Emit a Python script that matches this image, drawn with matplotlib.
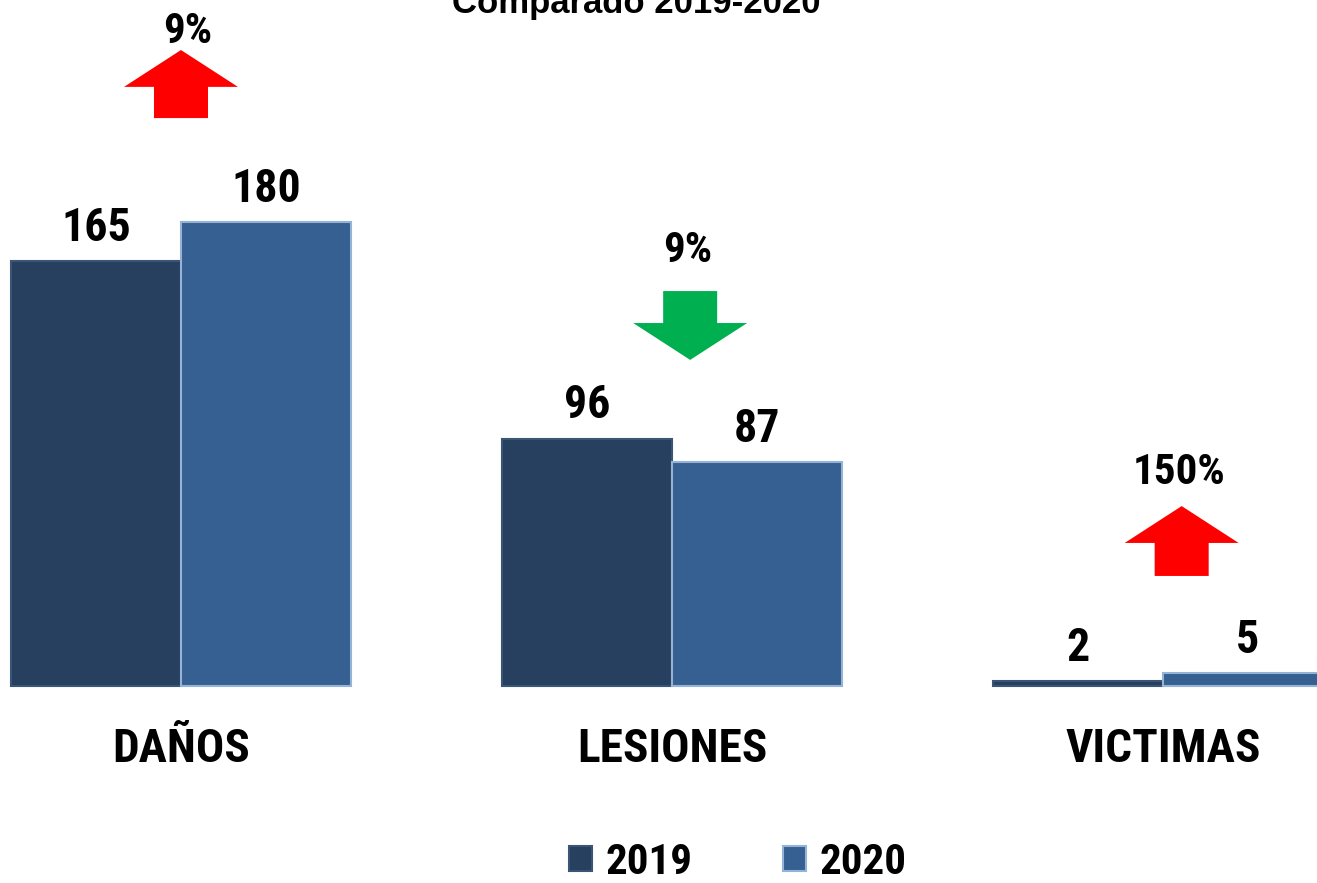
import numpy as np
import matplotlib
matplotlib.use("Agg")
from matplotlib import pyplot as plt
from matplotlib.patches import Polygon

plt.rcParams['font.family'] = ['Roboto Condensed', 'Liberation Sans', 'DejaVu Sans']

categories = ['DAÑOS', 'LESIONES', 'VICTIMAS']
years = ['2019', '2020']
values_2019 = [165, 96, 2]
values_2020 = [180, 87, 5]

colors = ['#27405F', '#366092']
edges = ['#3B5577', '#95B3D7']
up_color = '#FF0000'
down_color = '#00B050'

# arrow layout: (x centre, tail y, tip y, label x, label baseline y) in data units
arrow_layout = [
    (0.0, 220.3, 246.7, 0.013, 249.4),
    (1.037, 153.2, 126.5, 1.031, 164.5),
    (2.038, 42.7, 69.8, 2.033, 78.4),
]


def draw_arrow(ax, xc, y_tail, y_tip, color):
    head_hw = 0.116
    shaft_hw = 0.055
    sign = 1 if y_tip > y_tail else -1
    y_head = y_tip - sign * 14.3
    pts = [
        (xc - shaft_hw, y_tail), (xc + shaft_hw, y_tail),
        (xc + shaft_hw, y_head), (xc + head_hw, y_head),
        (xc, y_tip),
        (xc - head_hw, y_head), (xc - shaft_hw, y_head),
    ]
    ax.add_patch(Polygon(pts, closed=True, facecolor=color, edgecolor='none'))


fig = plt.figure(figsize=(13.17, 8.83), dpi=100)
ax = fig.add_axes([0, 0, 1, 1])
ax.set_xlim(-0.3686, 2.3136)
ax.set_ylim(-76.4, 266.1)
ax.axis('off')

x = np.arange(len(categories))
w = 0.346
bars = []
for i, vals in enumerate([values_2019, values_2020]):
    b = ax.bar(x + (i - 0.5) * w, vals, width=w, color=colors[i],
               edgecolor=edges[i], linewidth=1.5, label=years[i])
    bars.append(b)
    for rect, v in zip(b, vals):
        ax.annotate(str(v), (rect.get_x() + rect.get_width() / 2, v),
                    xytext=(0, 14.5), textcoords='offset points',
                    ha='center', va='baseline', fontsize=33, fontweight='bold')

for xi, name in zip(x, categories):
    ax.text(xi, -29.5, name, ha='center', va='baseline', fontsize=34, fontweight='bold')

for (xc, yt, ytip, lx, ly), a, b in zip(arrow_layout, values_2019, values_2020):
    change = (b - a) / a * 100
    draw_arrow(ax, xc, yt, ytip, up_color if change > 0 else down_color)
    ax.text(lx, ly, '{:.0f}%'.format(abs(change)), ha='center', va='baseline',
            fontsize=31, fontweight='bold')

fig.text(636 / 1317, 1 - 13 / 883, 'Comparado 2019-2020', ha='center', va='baseline',
         fontsize=25, fontweight='bold', family=['Liberation Sans', 'DejaVu Sans'])

ax.legend(handles=bars, loc='center', bbox_to_anchor=(738 / 1317, 1 - 862 / 883),
          ncol=2, frameon=False, prop={'size': 31, 'weight': 'bold'},
          handlelength=0.53, handleheight=0.53, handletextpad=0.32, columnspacing=2.1)

fig.savefig('out.png', dpi=100)
